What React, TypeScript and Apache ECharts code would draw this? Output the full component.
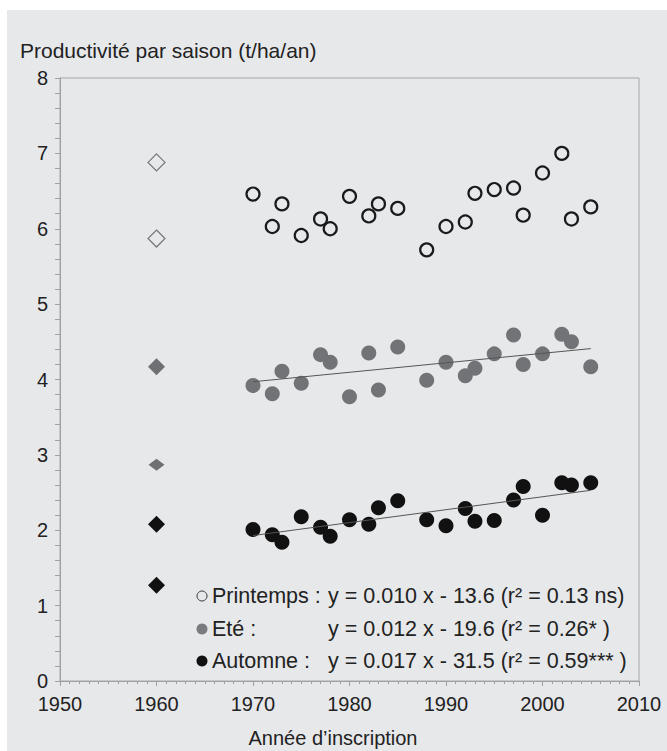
import React, { useEffect, useRef } from "react";
import * as echarts from "echarts";

const years = [1970, 1972, 1973, 1975, 1977, 1978, 1980, 1982, 1983, 1985, 1988, 1990, 1992, 1993, 1995, 1997, 1998, 2000, 2002, 2003, 2005];
const printemps = [6.46, 6.03, 6.33, 5.91, 6.13, 6.0, 6.43, 6.17, 6.33, 6.27, 5.72, 6.03, 6.09, 6.47, 6.52, 6.54, 6.18, 6.74, 7.0, 6.13, 6.29];
const ete = [3.92, 3.81, 4.11, 3.95, 4.33, 4.23, 3.77, 4.35, 3.86, 4.43, 3.99, 4.23, 4.05, 4.15, 4.34, 4.59, 4.2, 4.34, 4.6, 4.5, 4.17];
const automne = [2.01, 1.94, 1.84, 2.18, 2.04, 1.92, 2.14, 2.08, 2.3, 2.39, 2.14, 2.06, 2.29, 2.12, 2.13, 2.4, 2.58, 2.2, 2.63, 2.6, 2.63];

const refYear = 1960;
const printempsRef = [6.88, 5.87];
const eteRef = [4.17, 2.87];
const automneRef = [2.08, 1.27];

const eteTrend = [[1970, 3.97], [2005, 4.41]];
const automneTrend = [[1970, 1.93], [2005, 2.53]];

const legendLabels = ["Printemps :", "Eté :", "Automne :"];
const legendEquations = [
  "y = 0.010 x - 13.6 (r² = 0.13 ns)",
  "y = 0.012 x - 19.6 (r² = 0.26* )",
  "y = 0.017 x - 31.5 (r² = 0.59*** )",
];

const yTitle = "Productivité par saison (t/ha/an)";
const xTitle = "Année d’inscription";

const FONT = "Liberation Sans, Arial, sans-serif";

export default function App() {
  const ref = useRef<HTMLDivElement>(null);
  useEffect(() => {
    document.body.style.margin = "0";
    const chart = echarts.init(ref.current!, null, { renderer: "svg" });
    const pts = (vals: number[]) => years.map((y, i) => [y, vals[i]]);
    const legendRowsY = [596, 629, 661];
    const legendSymbols: any[] = [
      { type: "circle", shape: { cx: 202, cy: legendRowsY[0], r: 5 }, style: { fill: "none", stroke: "#333", lineWidth: 1 } },
      { type: "circle", shape: { cx: 202, cy: legendRowsY[1], r: 5.5 }, style: { fill: "#7a7b7e" } },
      { type: "circle", shape: { cx: 202, cy: legendRowsY[2], r: 5.5 }, style: { fill: "#111" } },
    ];
    const legendTexts: any[] = [];
    legendLabels.forEach((t, i) => {
      legendTexts.push({
        type: "text",
        x: 212,
        y: legendRowsY[i],
        style: { text: t, font: `21.5px ${FONT}`, fill: "#222", verticalAlign: "middle" },
      });
      legendTexts.push({
        type: "text",
        x: 328,
        y: legendRowsY[i],
        style: { text: legendEquations[i], font: `21.5px ${FONT}`, fill: "#222", verticalAlign: "middle" },
      });
    });

    chart.setOption({
      animation: false,
      backgroundColor: "#ffffff",
      textStyle: { fontFamily: FONT },
      graphic: [
        { type: "rect", z: -10, shape: { x: 7, y: 10, width: 670, height: 751 }, style: { fill: "#e7e8ea" } },
        {
          type: "text",
          x: 20,
          y: 50,
          style: { text: yTitle, font: `21px ${FONT}`, fill: "#222", verticalAlign: "middle" },
        },
        {
          type: "text",
          x: 333,
          y: 738,
          style: { text: xTitle, font: `20px ${FONT}`, fill: "#222", align: "center", verticalAlign: "middle" },
        },
        ...legendSymbols,
        ...legendTexts,
      ],
      grid: {
        left: 60,
        right: 28,
        top: 78,
        bottom: 70,
        show: true,
        borderColor: "#a6a6a6",
        borderWidth: 1,
        backgroundColor: "transparent",
      },
      xAxis: {
        type: "value",
        min: 1950,
        max: 2010,
        interval: 10,
        axisLine: { lineStyle: { color: "#a0a0a0", width: 1 } },
        axisTick: { show: true, length: 5, lineStyle: { color: "#a0a0a0" } },
        minorTick: { show: true, splitNumber: 10, length: 3, lineStyle: { color: "#a0a0a0" } },
        splitLine: { show: false },
        axisLabel: { color: "#222", fontSize: 20, margin: 13, fontFamily: FONT, formatter: (v: number) => String(v) },
      },
      yAxis: {
        type: "value",
        min: 0,
        max: 8,
        interval: 1,
        axisLine: { show: true, lineStyle: { color: "#a0a0a0", width: 1 } },
        axisTick: { show: true, length: 5, lineStyle: { color: "#a0a0a0" } },
        minorTick: { show: true, splitNumber: 5, length: 5, lineStyle: { color: "#a0a0a0" } },
        splitLine: { show: false },
        axisLabel: { color: "#222", fontSize: 20, margin: 12, fontFamily: FONT },
      },
      series: [
        {
          type: "line",
          data: eteTrend,
          symbol: "none",
          lineStyle: { color: "#555", width: 1 },
          z: 3,
        },
        {
          type: "line",
          data: automneTrend,
          symbol: "none",
          lineStyle: { color: "#555", width: 1 },
          z: 3,
        },
        {
          type: "scatter",
          data: pts(printemps),
          symbol: "circle",
          symbolSize: 13,
          itemStyle: { color: "rgba(0,0,0,0)", borderColor: "#1a1a1a", borderWidth: 2.2, opacity: 1 },
          z: 2,
        },
        {
          type: "scatter",
          data: pts(ete),
          symbol: "circle",
          symbolSize: 15,
          itemStyle: { color: "#727376", opacity: 1 },
          z: 2,
        },
        {
          type: "scatter",
          data: pts(automne),
          symbol: "circle",
          symbolSize: 15,
          itemStyle: { color: "#111111", opacity: 1 },
          z: 2,
        },
        {
          type: "scatter",
          data: printempsRef.map((v) => [refYear, v]),
          symbol: "diamond",
          symbolSize: 17,
          itemStyle: { color: "rgba(0,0,0,0)", borderColor: "#777", borderWidth: 1.2, opacity: 1 },
        },
        {
          type: "scatter",
          data: eteRef.map((v, i) => ({ value: [refYear, v], symbolSize: i === 0 ? [17, 17] : [16, 12] })),
          symbol: "diamond",
          itemStyle: { color: "#6f7073", opacity: 1 },
        },
        {
          type: "scatter",
          data: automneRef.map((v) => [refYear, v]),
          symbol: "diamond",
          symbolSize: 17,
          itemStyle: { color: "#111111", opacity: 1 },
        },
      ],
    });
    return () => chart.dispose();
  }, []);
  return <div ref={ref} style={{ width: 667, height: 751 }} />;
}
